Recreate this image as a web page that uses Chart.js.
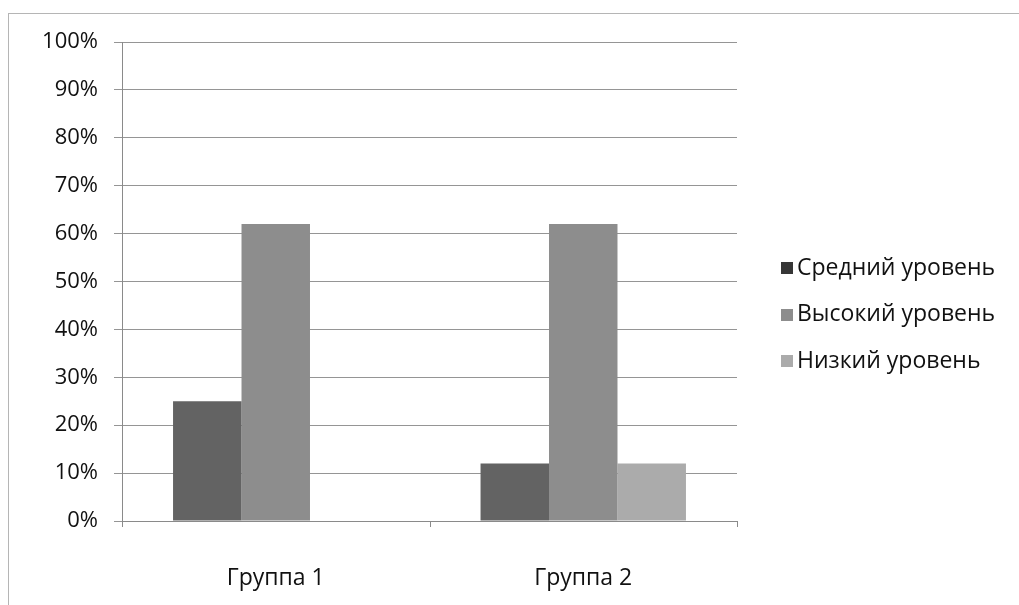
<!DOCTYPE html>
<html>
<head>
<meta charset="utf-8">
<script src="https://cdn.jsdelivr.net/npm/chart.js@4/dist/chart.umd.min.js"></script>
<style>
  html, body { margin:0; padding:0; background:#fff; }
  #wrap { position:relative; width:1019px; height:605px; }
  #frame { position:absolute; left:8px; top:13px; width:1020px; height:600px; border-left:1px solid #b5b5b5; border-top:1px solid #b5b5b5; }
  canvas { position:absolute; left:0; top:0; }
</style>
</head>
<body>
<div id="wrap">
  <div id="frame"></div>
  <canvas id="chart" width="1019" height="605"></canvas>
</div>
<script>
const categories = ['Группа 1', 'Группа 2'];
const seriesNames = ['Средний уровень', 'Высокий уровень', 'Низкий уровень'];
const srednij = [25, 12];
const vysokij = [62, 62];
const nizkij = [0, 12];
const yTicks = [0, 10, 20, 30, 40, 50, 60, 70, 80, 90, 100];

const colors = ['#636363', '#8d8d8d', '#ababab'];
const legendColors = ['#363636', '#8d8d8d', '#ababab'];
const font = 'Open Sans';

// legend drawn by hand so the box/text spacing matches the original
const sideLegend = {
  id: 'sideLegend',
  afterDraw(chart) {
    const ctx = chart.ctx;
    const x0 = chart.chartArea.right + 44;
    const y0 = 268, step = 46.5;
    ctx.save();
    ctx.font = `23px "${font}"`;
    ctx.textBaseline = 'middle';
    seriesNames.forEach((name, i) => {
      const y = y0 + i * step;
      ctx.fillStyle = legendColors[i];
      ctx.fillRect(x0, Math.round(y - 6), 12, 12);
      ctx.fillStyle = '#111';
      ctx.fillText(name, x0 + 16, y);
    });
    ctx.restore();
  }
};

const xTicks = {
  id: 'xTicks',
  afterDraw(chart) {
    const { ctx, scales: { x, y } } = chart;
    const bottom = y.getPixelForValue(0);
    ctx.save();
    ctx.strokeStyle = '#8a8a8a';
    ctx.lineWidth = 1;
    [0, 1, 2].forEach(i => {
      const px = Math.round(x.left + (x.right - x.left) * i / 2) + 0.5;
      ctx.beginPath();
      ctx.moveTo(px, bottom);
      ctx.lineTo(px, bottom + 6);
      ctx.stroke();
    });
    ctx.restore();
  }
};

new Chart(document.getElementById('chart'), {
  type: 'bar',
  data: {
    labels: categories,
    datasets: [srednij, vysokij, nizkij].map((data, i) => ({
      label: seriesNames[i],
      data,
      backgroundColor: colors[i],
      borderWidth: 0,
      categoryPercentage: 0.668,
      barPercentage: 1
    }))
  },
  options: {
    responsive: false,
    animation: false,
    layout: { padding: { top: 42, right: 282, left: 0, bottom: 0 } },
    plugins: {
      tooltip: { enabled: false },
      legend: { display: false }
    },
    scales: {
      x: {
        grid: { display: false, drawOnChartArea: false },
        border: { display: true, color: '#8a8a8a' },
        ticks: { font: { family: font, size: 23 }, color: '#111', padding: 36 },
        afterFit: s => { s.height = 84; }
      },
      y: {
        min: 0,
        max: 100,
        afterBuildTicks: s => { s.ticks = yTicks.map(v => ({ value: v })); },
        ticks: { font: { family: font, size: 22 }, color: '#111', padding: 16, callback: v => v + '%' },
        grid: { color: '#959595', tickLength: 8, lineWidth: 1 },
        border: { display: true, color: '#8a8a8a' },
        afterFit: s => { s.width = 122; }
      }
    }
  },
  plugins: [xTicks, sideLegend]
});
</script>
</body>
</html>
